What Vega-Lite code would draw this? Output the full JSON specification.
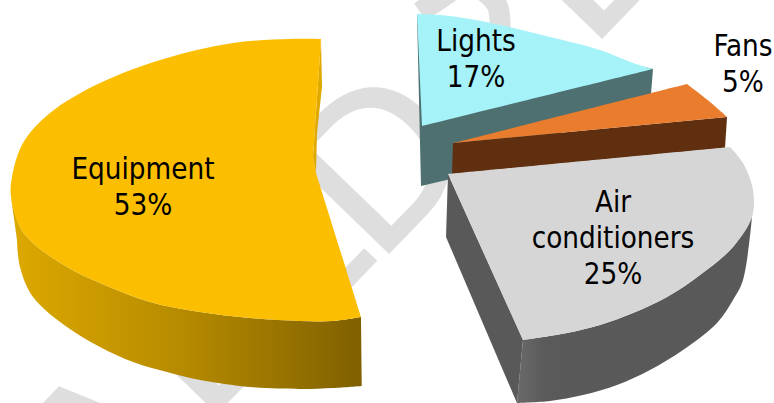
{
"$schema":"https://vega.github.io/schema/vega-lite/v6.json",
"width":774,"height":403,"padding":0,"autosize":{"type":"none"},"background":"white",
"view":{"stroke":null},
"config":{"axis":{"disable":true}},
"datasets":{
"marks":[{"t":"A","x":107,"y":548},{"t":"L","x":205,"y":425},{"t":"E","x":284,"y":356},{"t":"D","x":377,"y":265},{"t":"E","x":590,"y":50}],
"fragments":[{"g":"a","s":0,"x":420,"y":12},{"g":"a","s":1,"x":450,"y":-8},{"g":"b","s":0,"x":480,"y":-12},{"g":"b","s":1,"x":497,"y":5},{"g":"b","s":2,"x":500,"y":30}],
"labels":[
{"t":"Equipment","x":143,"y":170},{"t":"53%","x":143,"y":206},
{"t":"Lights","x":476,"y":42},{"t":"17%","x":476,"y":78},
{"t":"Fans","x":743,"y":47},{"t":"5%","x":743,"y":83},
{"t":"Air","x":613,"y":203},{"t":"conditioners","x":613,"y":239},{"t":"25%","x":613,"y":275}],
"faces":[
{"f":"equipSide","s":0,"x":11,"y":197},{"f":"equipSide","s":1,"x":20,"y":227},{"f":"equipSide","s":2,"x":33,"y":243},{"f":"equipSide","s":3,"x":67,"y":267},{"f":"equipSide","s":4,"x":100,"y":283},{"f":"equipSide","s":5,"x":150,"y":302},{"f":"equipSide","s":6,"x":200,"y":312},{"f":"equipSide","s":7,"x":250,"y":318},{"f":"equipSide","s":8,"x":300,"y":321},{"f":"equipSide","s":9,"x":333,"y":321},{"f":"equipSide","s":10,"x":361,"y":317},{"f":"equipSide","s":11,"x":361,"y":317},{"f":"equipSide","s":12,"x":362,"y":386},{"f":"equipSide","s":13,"x":362,"y":386},{"f":"equipSide","s":14,"x":333,"y":388},{"f":"equipSide","s":15,"x":300,"y":389},{"f":"equipSide","s":16,"x":250,"y":387},{"f":"equipSide","s":17,"x":200,"y":380},{"f":"equipSide","s":18,"x":167,"y":372},{"f":"equipSide","s":19,"x":133,"y":362},{"f":"equipSide","s":20,"x":100,"y":347},{"f":"equipSide","s":21,"x":67,"y":327},{"f":"equipSide","s":22,"x":33,"y":297},{"f":"equipSide","s":23,"x":20,"y":267},{"f":"equipSide","s":24,"x":17,"y":240},
{"f":"airFront","s":0,"x":523,"y":340},{"f":"airFront","s":1,"x":567,"y":333},{"f":"airFront","s":2,"x":600,"y":325},{"f":"airFront","s":3,"x":633,"y":313},{"f":"airFront","s":4,"x":667,"y":297},{"f":"airFront","s":5,"x":700,"y":275},{"f":"airFront","s":6,"x":733,"y":247},{"f":"airFront","s":7,"x":752,"y":217},{"f":"airFront","s":8,"x":752,"y":217},{"f":"airFront","s":9,"x":743,"y":280},{"f":"airFront","s":10,"x":733,"y":300},{"f":"airFront","s":11,"x":717,"y":323},{"f":"airFront","s":12,"x":683,"y":350},{"f":"airFront","s":13,"x":650,"y":370},{"f":"airFront","s":14,"x":617,"y":385},{"f":"airFront","s":15,"x":583,"y":395},{"f":"airFront","s":16,"x":550,"y":401},{"f":"airFront","s":17,"x":517,"y":403},
{"f":"equipInner","s":0,"x":321,"y":39},{"f":"equipInner","s":1,"x":322,"y":87},{"f":"equipInner","s":2,"x":317,"y":133},{"f":"equipInner","s":3,"x":316,"y":173},{"f":"equipInner","s":4,"x":313,"y":157},
{"f":"lightsSide","s":0,"x":417,"y":14},{"f":"lightsSide","s":1,"x":653,"y":69},{"f":"lightsSide","s":2,"x":651,"y":94},{"f":"lightsSide","s":3,"x":455,"y":178},{"f":"lightsSide","s":4,"x":421,"y":186},
{"f":"fansSide","s":0,"x":453,"y":143},{"f":"fansSide","s":1,"x":727,"y":117},{"f":"fansSide","s":2,"x":725,"y":148},{"f":"fansSide","s":3,"x":452,"y":174},
{"f":"airLeft","s":0,"x":448,"y":174},{"f":"airLeft","s":1,"x":446,"y":237},{"f":"airLeft","s":2,"x":517,"y":403},{"f":"airLeft","s":3,"x":523,"y":340},
{"f":"equipTop","s":0,"x":321,"y":39},{"f":"equipTop","s":1,"x":290,"y":39},{"f":"equipTop","s":2,"x":233,"y":43},{"f":"equipTop","s":3,"x":167,"y":58},{"f":"equipTop","s":4,"x":100,"y":83},{"f":"equipTop","s":5,"x":50,"y":113},{"f":"equipTop","s":6,"x":23,"y":143},{"f":"equipTop","s":7,"x":12,"y":177},{"f":"equipTop","s":8,"x":11,"y":197},{"f":"equipTop","s":9,"x":20,"y":227},{"f":"equipTop","s":10,"x":33,"y":243},{"f":"equipTop","s":11,"x":67,"y":267},{"f":"equipTop","s":12,"x":100,"y":283},{"f":"equipTop","s":13,"x":150,"y":302},{"f":"equipTop","s":14,"x":200,"y":312},{"f":"equipTop","s":15,"x":250,"y":318},{"f":"equipTop","s":16,"x":300,"y":321},{"f":"equipTop","s":17,"x":333,"y":321},{"f":"equipTop","s":18,"x":361,"y":317},{"f":"equipTop","s":19,"x":361,"y":317},{"f":"equipTop","s":20,"x":316,"y":173},{"f":"equipTop","s":21,"x":316,"y":173},{"f":"equipTop","s":22,"x":313,"y":157},
{"f":"lightsTop","s":0,"x":417,"y":14},{"f":"lightsTop","s":1,"x":450,"y":16},{"f":"lightsTop","s":2,"x":500,"y":25},{"f":"lightsTop","s":3,"x":550,"y":37},{"f":"lightsTop","s":4,"x":600,"y":50},{"f":"lightsTop","s":5,"x":633,"y":63},{"f":"lightsTop","s":6,"x":653,"y":69},{"f":"lightsTop","s":7,"x":653,"y":69},{"f":"lightsTop","s":8,"x":422,"y":126},
{"f":"fansTop","s":0,"x":453,"y":143},{"f":"fansTop","s":1,"x":687,"y":84},{"f":"fansTop","s":2,"x":687,"y":84},{"f":"fansTop","s":3,"x":710,"y":102},{"f":"fansTop","s":4,"x":727,"y":117},
{"f":"airTop","s":0,"x":448,"y":174},{"f":"airTop","s":1,"x":730,"y":147},{"f":"airTop","s":2,"x":730,"y":147},{"f":"airTop","s":3,"x":743,"y":163},{"f":"airTop","s":4,"x":753,"y":190},{"f":"airTop","s":5,"x":752,"y":217},{"f":"airTop","s":6,"x":733,"y":247},{"f":"airTop","s":7,"x":700,"y":275},{"f":"airTop","s":8,"x":667,"y":297},{"f":"airTop","s":9,"x":633,"y":313},{"f":"airTop","s":10,"x":600,"y":325},{"f":"airTop","s":11,"x":567,"y":333},{"f":"airTop","s":12,"x":523,"y":340}
]},
"encoding":{
"x":{"field":"x","type":"quantitative","scale":{"domain":[0,774],"nice":false,"zero":false}},
"y":{"field":"y","type":"quantitative","scale":{"domain":[403,0],"nice":false,"zero":false}}
},
"layer":[
{"data":{"name":"marks"},"mark":{"type":"text","font":"Liberation Sans","fontSize":212,"color":"#dedede","stroke":"#dedede","strokeWidth":2,"align":"left","baseline":"alphabetic","angle":-46},"encoding":{"text":{"field":"t"}}},
{"data":{"name":"fragments"},"mark":{"type":"line","stroke":"#dedede","strokeWidth":21,"interpolate":"catmull-rom","clip":true},"encoding":{"detail":{"field":"g"},"order":{"field":"s"}}},
{"data":{"name":"faces"},"transform":[{"filter":"datum.f==='equipSide'"}],"mark":{"type":"line","interpolate":"catmull-rom","stroke":null,"fill":{"gradient":"linear","x1":0,"x2":1,"y1":0,"y2":0,"stops":[{"offset":0,"color":"#DDA900"},{"offset":0.5,"color":"#B58A00"},{"offset":1,"color":"#7F6000"}]}},"encoding":{"order":{"field":"s"}}},
{"data":{"name":"faces"},"transform":[{"filter":"datum.f==='airFront'"}],"mark":{"type":"line","interpolate":"catmull-rom","stroke":null,"fill":{"gradient":"linear","x1":0,"x2":1,"y1":0,"y2":0,"stops":[{"offset":0,"color":"#6A6A6A"},{"offset":0.12,"color":"#5A5A5A"},{"offset":1,"color":"#595959"}]}},"encoding":{"order":{"field":"s"}}},
{"data":{"name":"faces"},"transform":[{"filter":{"field":"f","oneOf":["equipInner","lightsSide","fansSide","airLeft"]}}],"mark":{"type":"line","stroke":null},"encoding":{"order":{"field":"s"},"fill":{"field":"f","type":"nominal","legend":null,"sort":null,"scale":{"domain":["equipInner","equipTop","lightsSide","lightsTop","fansSide","fansTop","airLeft","airTop"],"range":["#DFA900","#FCBE00","#4E7070","#A5F3F8","#602F10","#E97C2D","#595959","#D6D6D6"]}}}},
{"data":{"name":"faces"},"transform":[{"filter":{"field":"f","oneOf":["equipTop","lightsTop","fansTop","airTop"]}}],"mark":{"type":"line","interpolate":"catmull-rom","stroke":null},"encoding":{"order":{"field":"s"},"fill":{"field":"f","type":"nominal","legend":null,"sort":null,"scale":{"domain":["equipInner","equipTop","lightsSide","lightsTop","fansSide","fansTop","airLeft","airTop"],"range":["#DFA900","#FCBE00","#4E7070","#A5F3F8","#602F10","#E97C2D","#595959","#D6D6D6"]}}}},
{"data":{"name":"labels"},"mark":{"type":"text","font":"DejaVu Sans Condensed","fontSize":29.3,"color":"#000000","align":"center","baseline":"middle"},"encoding":{"text":{"field":"t"}}}
]
}
